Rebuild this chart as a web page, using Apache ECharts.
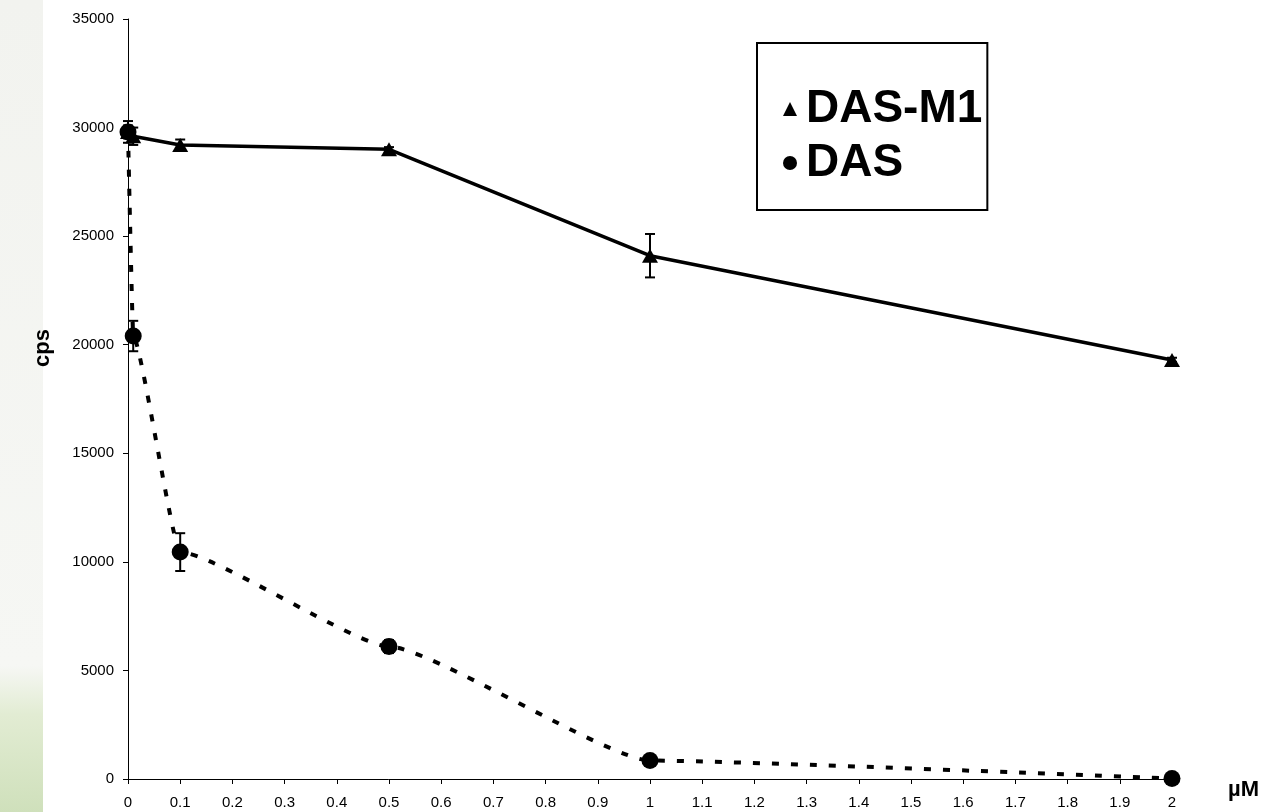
<!DOCTYPE html>
<html>
<head>
<meta charset="utf-8">
<script src="https://cdn.jsdelivr.net/npm/echarts@6/dist/echarts.min.js"></script>
<style>html,body{margin:0;padding:0;background:#fff;}#chart{width:1265px;height:812px;}</style>
</head>
<body>
<div id="chart"></div>
<script>
const concentrations = [0, 0.01, 0.1, 0.5, 1, 2];
const dasM1 = [29800, 29600, 29200, 29000, 24100, 19300];
const dasM1Err = [300, 400, 250, 100, 1000, 100];
const das = [29800, 20400, 10450, 6100, 850, 20];
const dasErr = [500, 700, 870, 300, 100, 0];
const seriesNames = ['DAS-M1', 'DAS'];
const yAxisTitle = 'cps';
const xAxisTitle = 'µM';

const FONT = "'Liberation Sans', Arial, sans-serif";
const pairs = (xs, ys) => xs.map((x, i) => [x, ys[i]]);
const errs = (xs, ys, es) => xs.map((x, i) => [x, ys[i], es[i]]);

function errorBar(params, api) {
  const x = api.value(0), y = api.value(1), e = api.value(2);
  if (!e) return null;
  const t = api.coord([x, y + e]), b = api.coord([x, y - e]);
  const hw = 5, st = { stroke: '#000', lineWidth: 2 };
  return { type: 'group', children: [
    { type: 'line', shape: { x1: t[0], y1: t[1], x2: b[0], y2: b[1] }, style: st },
    { type: 'line', shape: { x1: t[0] - hw, y1: t[1], x2: t[0] + hw, y2: t[1] }, style: st },
    { type: 'line', shape: { x1: b[0] - hw, y1: b[1], x2: b[0] + hw, y2: b[1] }, style: st }
  ]};
}

const chart = echarts.init(document.getElementById('chart'), null, { renderer: 'canvas' });
chart.setOption({
  animation: false,
  backgroundColor: '#fff',
  textStyle: { fontFamily: FONT, color: '#000' },
  graphic: [
    { type: 'rect', left: 0, top: 0, z: -10, shape: { width: 43, height: 812 },
      style: { fill: new echarts.graphic.LinearGradient(0, 0, 0, 1, [
        { offset: 0, color: '#f2f3ef' }, { offset: 0.82, color: '#f6f7f4' },
        { offset: 0.88, color: '#e2ecd3' }, { offset: 1, color: '#cfe0bb' }]) } },
    { type: 'text', left: 32, top: 329, rotation: Math.PI / 2,
      style: { text: yAxisTitle, font: 'bold 22px ' + FONT, fill: '#000' } },
    { type: 'text', left: 1228, top: 779,
      style: { text: xAxisTitle, font: 'bold 22px ' + FONT, fill: '#000' } }
  ],
  grid: { left: 128, right: 93, top: 19, bottom: 33, containLabel: false },
  legend: {
    orient: 'vertical', left: 757, top: 43,
    padding: [43, 5, 24, 26], itemGap: 8, itemWidth: 14, itemHeight: 14,
    borderColor: '#000', borderWidth: 2, backgroundColor: '#fff',
    textStyle: { fontSize: 46, fontWeight: 'bold', color: '#000', fontFamily: FONT, padding: [0, 0, 0, 4] },
    data: [{ name: seriesNames[0], icon: 'triangle' }, { name: seriesNames[1], icon: 'circle' }]
  },
  xAxis: {
    type: 'value', min: 0, max: 2, interval: 0.1,
    axisLine: { lineStyle: { color: '#000', width: 1 } },
    axisTick: { show: true, length: 5, lineStyle: { color: '#000' } },
    axisLabel: { color: '#000', fontSize: 15, margin: 16, fontFamily: FONT },
    splitLine: { show: false }
  },
  yAxis: {
    type: 'value', min: 0, max: 35000, interval: 5000,
    axisLine: { show: true, lineStyle: { color: '#000', width: 1 } },
    axisTick: { show: true, length: 5, lineStyle: { color: '#000' } },
    axisLabel: { color: '#000', fontSize: 15, margin: 14, fontFamily: FONT,
      formatter: v => String(v) },
    splitLine: { show: false }
  },
  series: [
    { name: seriesNames[1], type: 'line', data: pairs(concentrations, das),
      smooth: 0.15, smoothMonotone: 'x',
      symbol: 'circle', symbolSize: 17, color: '#000',
      itemStyle: { color: '#000' },
      lineStyle: { color: '#000', width: 4, type: [7, 12] }, z: 3 },
    { name: seriesNames[0], type: 'line', data: pairs(concentrations, dasM1),
      symbol: 'triangle', symbolSize: [16, 14], color: '#000',
      itemStyle: { color: '#000' },
      lineStyle: { color: '#000', width: 3.5 }, z: 2 },
    { name: 'DAS-M1 error', type: 'custom', renderItem: errorBar,
      data: errs(concentrations, dasM1, dasM1Err), z: 4, silent: true },
    { name: 'DAS error', type: 'custom', renderItem: errorBar,
      data: errs(concentrations, das, dasErr), z: 4, silent: true }
  ]
});
</script>
</body>
</html>
